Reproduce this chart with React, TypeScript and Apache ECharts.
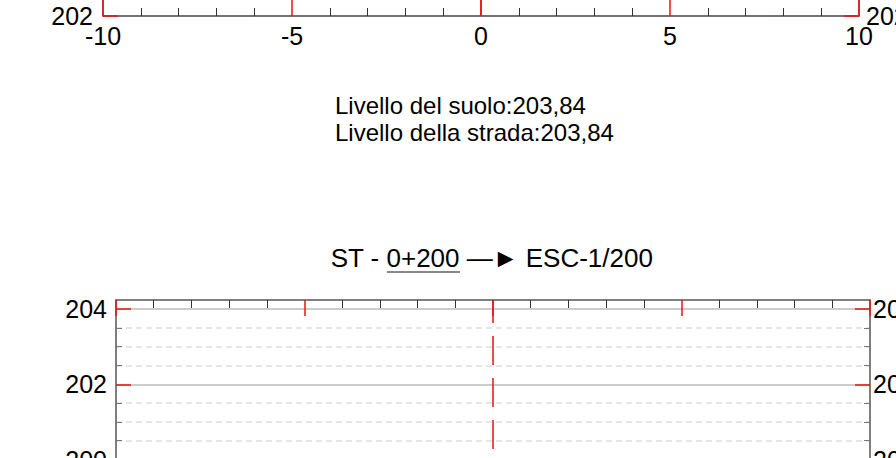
import React, { useEffect, useRef } from "react";
import * as echarts from "echarts";

// ---- data ----
const xRange = [-10, 10];
const xMajorStep = 5;
const xMinorSplits = 5;
const centerAxisX = [0];

const groundLevel = "203,84";
const roadLevel = "203,84";
const stationCode = "0+200";
const stationTarget = "ESC-1/200";

const topYRange = [202, 208];
const topYMajor = [202, 204, 206, 208];
const topYMinor = [202.5, 203, 203.5, 204.5, 205, 205.5, 206.5, 207, 207.5];

const bottomYRange = [196, 204.24];
const bottomYMajor = [196, 198, 200, 202, 204];
const bottomYMinor = [196.5, 197, 197.5, 198.5, 199, 199.5, 200.5, 201, 201.5, 202.5, 203, 203.5];

const FONT = "'Liberation Sans', Arial, Helvetica, sans-serif";
const AXIS_LINE = { color: "#555", width: 1.5 };
const RED = "#ee1111";
const LABEL_SIZE = 25;

function measure(text: string, font: string): number {
  const c = document.createElement("canvas").getContext("2d");
  if (!c) return text.length * 12;
  c.font = font;
  return c.measureText(text).width;
}

function xAxis(gridIndex: number, position: string, showLabel: boolean) {
  return {
    type: "value",
    gridIndex,
    position,
    min: xRange[0],
    max: xRange[1],
    interval: xMajorStep,
    axisLine: { show: true, onZero: false, lineStyle: AXIS_LINE },
    axisTick: { show: true, inside: true, length: 16, lineStyle: { color: RED, width: 1.5 } },
    minorTick: { show: true, splitNumber: xMinorSplits, length: 8, lineStyle: { color: "#333", width: 1 } },
    axisLabel: { show: showLabel, fontSize: LABEL_SIZE, color: "#000", fontFamily: FONT, margin: 7 },
    splitLine: { show: false },
  };
}

function yMajorAxis(gridIndex: number, position: string, range: number[], majors: number[], split: boolean, margin: number) {
  return {
    type: "value",
    gridIndex,
    position,
    min: range[0],
    max: range[1],
    axisLine: { show: true, onZero: false, lineStyle: AXIS_LINE },
    axisTick: { show: true, inside: true, length: 15, customValues: majors, lineStyle: { color: RED, width: 1.5 } },
    axisLabel: { show: true, customValues: majors, fontSize: LABEL_SIZE, color: "#000", fontFamily: FONT, margin },
    splitLine: { show: split, lineStyle: { color: "#bbb", width: 1.5 } },
  };
}

function yMinorAxis(gridIndex: number, position: string, range: number[], minors: number[], split: boolean) {
  return {
    type: "value",
    gridIndex,
    position,
    min: range[0],
    max: range[1],
    axisLine: { show: false, onZero: false },
    axisTick: { show: true, inside: true, length: 6, customValues: minors, lineStyle: { color: "#777", width: 1 } },
    axisLabel: { show: false },
    splitLine: { show: split, lineStyle: { color: "#dedede", width: 1.5, type: [6, 4] } },
  };
}

function centerLine(xAxisIndex: number, yAxisIndex: number) {
  return {
    type: "line",
    xAxisIndex,
    yAxisIndex,
    data: [],
    silent: true,
    markLine: {
      silent: true,
      symbol: "none",
      label: { show: false },
      lineStyle: { color: RED, width: 1.5, type: [29, 13], dashOffset: 7 },
      data: centerAxisX.map((v) => ({ xAxis: v })),
    },
  };
}

export default function App() {
  const ref = useRef<HTMLDivElement>(null);
  useEffect(() => {
    if (!ref.current) return;
    const chart = echarts.init(ref.current, null, { renderer: "svg" });

    const titleFont = `26px ${FONT}`;
    const partA = "ST - ";
    const partB = stationCode;
    const partC = ` \u2014\u25BA ${stationTarget}`;
    const wA = measure(partA, titleFont);
    const wB = measure(partB, titleFont);
    const wAll = measure(partA + partB + partC, titleFont);
    const titleCenter = 492;
    const titleStart = titleCenter - wAll / 2;

    chart.setOption({
      animation: false,
      grid: [
        { left: 103, width: 756, top: -210, height: 226, outerBoundsMode: "none", containLabel: false },
        { left: 116, width: 754, top: 300, height: 310, outerBoundsMode: "none", containLabel: false },
      ],
      xAxis: [
        xAxis(0, "bottom", true),
        xAxis(0, "top", false),
        xAxis(1, "top", false),
        xAxis(1, "bottom", true),
      ],
      yAxis: [
        yMajorAxis(0, "left", topYRange, topYMajor, true, 10),
        yMajorAxis(0, "right", topYRange, topYMajor, false, 7),
        yMinorAxis(0, "left", topYRange, topYMinor, true),
        yMinorAxis(0, "right", topYRange, topYMinor, false),
        yMajorAxis(1, "left", bottomYRange, bottomYMajor, true, 9),
        yMajorAxis(1, "right", bottomYRange, bottomYMajor, false, 3),
        yMinorAxis(1, "left", bottomYRange, bottomYMinor, true),
        yMinorAxis(1, "right", bottomYRange, bottomYMinor, false),
      ],
      series: [centerLine(0, 0), centerLine(2, 4)],
      graphic: [
        {
          type: "text",
          x: 335,
          y: 105,
          style: { text: `Livello del suolo:${groundLevel}`, font: `24px ${FONT}`, fill: "#000", verticalAlign: "middle" },
        },
        {
          type: "text",
          x: 335,
          y: 132,
          style: { text: `Livello della strada:${roadLevel}`, font: `24px ${FONT}`, fill: "#000", verticalAlign: "middle" },
        },
        {
          type: "text",
          x: titleStart,
          y: 258,
          style: { text: partA + partB + partC, font: titleFont, fill: "#000", verticalAlign: "middle" },
        },
        {
          type: "line",
          shape: { x1: titleStart + wA, y1: 272, x2: titleStart + wA + wB, y2: 272 },
          style: { stroke: "#888", lineWidth: 2 },
        },
      ],
    });
    return () => chart.dispose();
  }, []);

  return (
    <div
      ref={ref}
      style={{ position: "absolute", left: 0, top: 0, width: 896, height: 458, background: "#fff" }}
    />
  );
}
